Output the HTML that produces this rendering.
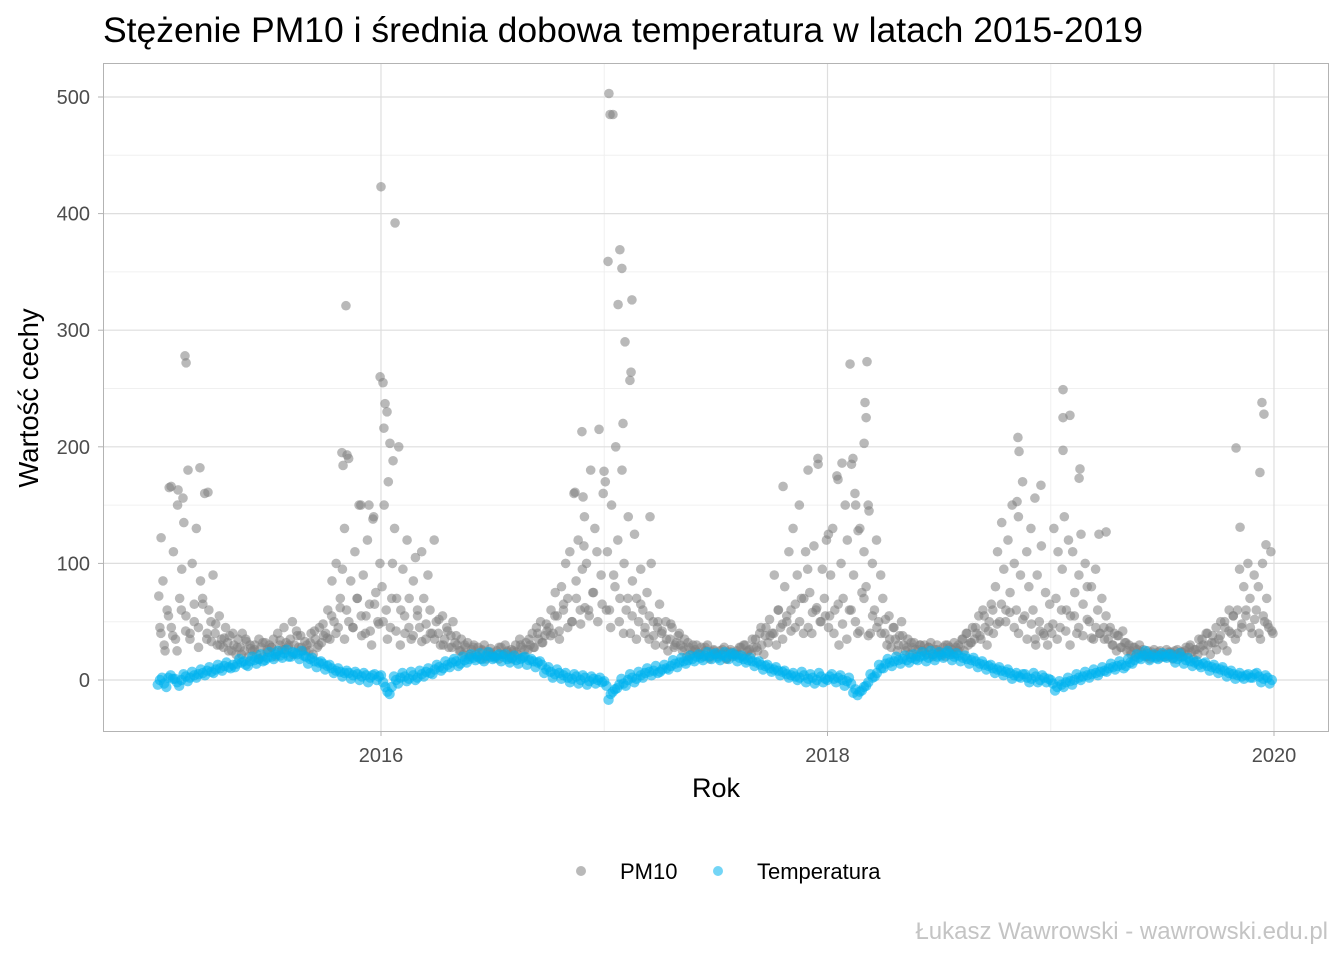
<!DOCTYPE html>
<html><head><meta charset="utf-8"><style>
html,body{margin:0;padding:0;background:#fff;}
svg{display:block;font-family:"Liberation Sans",sans-serif;}
</style></head><body>
<svg id="chart" width="1344" height="960" viewBox="0 0 1344 960" xmlns="http://www.w3.org/2000/svg">
<text x="103" y="42" font-size="35.5" fill="#000">Stężenie PM10 i średnia dobowa temperatura w latach 2015-2019</text>
<g id="grid"></g>
<g id="points"></g>
<rect x="103.5" y="63.5" width="1225" height="668" fill="none" stroke="#b3b3b3" stroke-width="1"/>
<g id="axes"></g>
<text x="716" y="797" font-size="27" text-anchor="middle" fill="#000">Rok</text>
<text transform="translate(38,398) rotate(-90)" font-size="27.5" text-anchor="middle" fill="#000">Wartość cechy</text>
<g>
<circle cx="581" cy="871" r="5" fill="#808080" fill-opacity="0.55"/>
<text x="620" y="879" font-size="22" fill="#000">PM10</text>
<circle cx="718" cy="871" r="5" fill="#00b2ee" fill-opacity="0.55"/>
<text x="757" y="879" font-size="22" fill="#000">Temperatura</text>
</g>
<text x="1328" y="939" font-size="24" text-anchor="end" fill="#c4c4c4">Łukasz Wawrowski - wawrowski.edu.pl</text>
</svg>
<script>
const years = [2015, 2016, 2017, 2018, 2019];
const yTicks = [0, 100, 200, 300, 400, 500];
const xTicks = [2016, 2018, 2020];
const xTickLabels = ["2016", "2018", "2020"];
const pm2015 = [72,40,85,25,60,165,45,110,35,150,70,95,135,55,180,40,100,65,130,45,85,70,160,35,60,50,90,40,30,55,35,28,45,32,38,25,30,22,35,28,40,25,33,20,27,25,30,22,35,28,20,32,26,30,28,35,24,40,30,26,45,32,28,35,50,30,42,28,38,25,33,30,25,40,22,35,28,45,32,38,40,60,35,85,50,100,45,70,95,130,60,190,85,45,110,70,150,55,90,40,120,65,30,140,75,50,100];
const pm2016 = [80,150,60,170,45,100,130,70,200,60,95,40,120,70,35,85,105,55,45,110,70,35,90,60,40,120,50,40,30,55,35,45,28,38,50,32,30,25,35,22,28,32,20,26,30,22,28,18,25,30,20,24,27,22,20,25,18,28,22,30,24,19,26,25,30,22,35,28,20,32,26,30,40,28,45,35,50,32,38,42,45,60,40,75,55,35,80,65,100,70,110,50,160,85,120,60,95,140,100,60,180,75,130,110,215,90,160];
const pm2017 = [170,110,60,150,90,200,120,70,180,100,60,140,40,85,125,70,50,95,60,40,75,35,100,50,30,45,65,40,30,50,25,35,45,28,32,38,30,25,35,20,28,22,30,26,24,22,28,20,25,30,18,24,26,22,20,25,22,28,18,24,26,20,22,25,22,28,20,30,24,26,22,28,35,25,40,30,22,45,32,38,40,90,30,60,45,35,80,50,110,60,130,45,90,150,70,40,110,95,75,40,115,60,185,50,95,70,120];
const pm2018 = [45,90,130,60,175,30,100,70,150,120,60,185,90,150,40,130,75,110,80,150,40,100,60,120,50,90,70,40,30,55,28,45,35,25,38,50,30,25,35,22,28,32,20,26,30,25,30,22,28,32,20,26,30,24,22,28,20,30,24,26,22,28,25,28,35,25,40,30,32,45,35,40,55,35,60,45,30,50,65,40,80,110,50,135,95,60,120,75,150,100,60,140,90,170,55,110,80,130,60,35,90,50,115,40,75,30,65];
const pm2019 = [40,130,70,110,45,95,140,60,120,55,110,75,40,90,125,65,100,80,50,80,35,95,60,40,70,45,55,35,45,30,40,25,38,28,42,32,25,30,22,28,20,26,30,24,22,20,25,18,22,26,20,24,19,22,22,26,20,24,18,25,22,20,24,20,25,22,28,24,18,26,22,28,35,25,40,30,22,38,32,26,35,50,30,45,25,60,40,55,35,60,95,45,80,55,100,70,40,90,60,80,35,100,50,70,45,110,40];
const pmB2015 = [45,30,55,38,25,60,42,35,50,28,65,40,33,48,30,36,25,40,28,22,35,30,26,18,32,24,28,20,34,26,30,22,38,28,25,32,42,30,48,36,55,40,62,35,50,45,70,38,55,42,65,48];
const pmB2016 = [50,35,70,42,30,55,45,38,60,33,48,40,35,52,30,42,28,38,25,30,22,28,20,26,18,24,20,28,22,25,18,24,30,26,35,28,40,32,48,38,55,42,60,45,50,70,48,62,55,75,50,65];
const pmB2017 = [60,45,80,50,40,70,55,35,65,45,55,38,50,42,35,48,30,40,28,32,25,30,22,28,20,25,22,26,18,24,22,28,30,25,35,28,45,38,52,40,60,48,55,42,65,50,70,45,58,62,50,55];
const pmB2018 = [55,40,65,48,35,60,50,42,70,38,55,45,40,52,35,45,30,38,28,32,26,30,24,28,22,26,24,30,28,32,30,35,40,32,45,38,55,42,60,48,65,50,58,45,40,52,35,48,30,42,38,45];
const pmB2019 = [48,35,60,42,30,55,45,38,52,36,45,40,35,42,30,38,28,32,25,28,22,26,20,24,22,25,20,24,22,26,24,28,30,26,35,30,40,32,45,38,50,42,55,40,48,60,45,52,40,55,48,42];
const pmSeries = [pm2015, pm2016, pm2017, pm2018, pm2019, pmB2015, pmB2016, pmB2017, pmB2018, pmB2019];
const outlierDates = [2015.122,2015.127,2015.189,2015.225,2015.015,2015.06,2015.091,2015.113,2015.843,2015.825,2015.848,2015.83,2016.0,2016.063,2015.996,2016.009,2016.018,2016.027,2016.013,2016.04,2016.054,2015.946,2015.91,2015.964,2016.869,2016.9,2016.905,2017.021,2017.026,2017.039,2017.017,2017.07,2017.079,2017.062,2017.124,2017.093,2017.12,2017.115,2017.084,2016.999,2017.205,2016.909,2017.801,2017.913,2017.957,2018.101,2018.177,2018.168,2018.173,2018.164,2018.114,2018.065,2018.047,2018.123,2018.186,2018.004,2018.137,2018.853,2018.858,2019.055,2019.055,2019.086,2019.055,2019.131,2019.127,2018.929,2018.956,2018.849,2019.248,2019.216,2019.83,2019.946,2019.955,2019.937,2019.848,2019.964];
const outlierValues = [278,272,182,161,122,166,163,156,321,195,193,184,423,392,260,255,237,230,216,203,188,150,150,138,161,213,157,503,485,485,359,369,353,322,326,290,264,257,220,179,140,115,166,180,190,271,273,238,225,203,190,186,172,160,145,125,128,208,196,249,225,227,197,181,173,156,167,153,127,125,199,238,228,178,131,116];
const t2015 = [0,-3,2,1,-2,0,3,2,4,5,6,8,7,9,10,12,11,13,14,15,13,16,17,18,16,19,20,22,21,23,20,24,22,25,20,18,16,15,14,12,10,8,7,6,6,4,5,3,4,2,5,3];
const t2016 = [-2,-10,-6,0,2,3,1,4,2,5,7,6,9,11,10,13,15,16,14,17,18,19,20,18,21,20,19,22,20,18,19,17,18,20,17,16,15,13,9,7,5,6,4,2,1,3,0,2,-1,1,0,-2];
const t2017 = [-5,-12,-8,-4,-3,0,2,1,4,6,7,8,6,9,10,12,14,15,16,17,18,20,19,21,20,22,19,21,20,22,21,19,18,17,16,15,13,12,10,9,8,7,5,4,3,2,4,1,2,0,3,1];
const t2018 = [3,1,2,0,-1,-3,-8,-10,-6,-2,2,6,10,14,15,16,17,18,17,19,18,20,21,19,22,20,21,23,22,20,21,19,18,17,16,14,13,12,10,9,8,7,6,4,3,5,2,1,3,0,2,1];
const t2019 = [-3,-6,-4,-2,-1,0,2,3,4,5,6,7,8,10,11,12,13,12,15,17,19,21,22,20,19,21,20,22,19,18,20,17,16,15,13,14,12,11,10,9,8,6,5,4,3,4,2,5,3,1,2,0];
const tB2015 = [-4,2,-6,4,1,-5,5,-1,7,2,9,4,11,6,13,8,15,10,11,18,16,12,20,14,22,17,24,18,25,19,26,20,23,18,21,14,19,11,16,9,13,6,10,3,8,1,7,0,6,-2,4,0];
const tB2016 = [4,-6,-12,3,-3,6,-1,7,0,8,3,10,5,13,8,16,11,18,12,20,15,22,17,23,16,24,18,21,16,22,15,21,14,19,13,18,11,16,6,11,2,9,1,6,-2,5,-3,4,-4,3,-3,2];
const tB2017 = [-1,-17,-10,-7,1,-5,5,-2,7,2,10,4,12,7,13,9,17,11,19,14,21,16,22,17,24,18,23,17,24,18,23,16,21,15,19,12,16,9,13,7,11,4,8,2,6,0,7,-2,5,-3,6,-2];
const tB2018 = [0,5,-2,4,-5,2,-11,-13,-9,-5,5,3,13,10,18,12,20,14,21,15,22,17,24,16,25,17,24,19,25,17,23,16,21,14,19,11,16,9,13,6,11,4,9,1,6,2,5,-2,6,-2,4,-2];
const tB2019 = [0,-9,-1,-6,2,-4,5,0,7,2,9,4,11,7,14,9,16,10,18,14,22,18,25,17,22,18,23,19,22,15,23,14,19,12,16,11,15,8,13,6,11,3,8,1,6,1,5,2,6,-2,4,-3];
const tSeries = [t2015, t2016, t2017, t2018, t2019, tB2015, tB2016, tB2017, tB2018, tB2019];

const NS = "http://www.w3.org/2000/svg";
const X0 = 381, YEARPX = 223.25, Y0 = 680, UNITPX = 1.166;
function xs(yr){ return X0 + (yr - 2016) * YEARPX; }
function ys(v){ return Y0 - v * UNITPX; }
function mk(tag, attrs, parent){
  const e = document.createElementNS(NS, tag);
  for (const k in attrs) e.setAttribute(k, attrs[k]);
  parent.appendChild(e); return e;
}
const grid = document.getElementById('grid');
const axes = document.getElementById('axes');
const pts = document.getElementById('points');
mk('rect',{x:103,y:63,width:1225,height:668,fill:'#fff'},grid);
for (let i = 0; i < yTicks.length; i++) {
  const v = yTicks[i] + 50;
  if (ys(v) > 63) {
    const l = mk('line',{x1:103,x2:1328,y1:ys(v),y2:ys(v),stroke:'#f0f0f0','stroke-width':1},grid);
    
    
  }
}
for (let i = 0; i < xTicks.length - 1; i++) {
  const v = (xTicks[i] + xTicks[i+1]) / 2;
  const l = mk('line',{x1:xs(v),x2:xs(v),y1:63,y2:731,stroke:'#f0f0f0','stroke-width':1},grid);
  
  
}
yTicks.forEach(v => {
  const l = mk('line',{x1:103,x2:1328,y1:ys(v),y2:ys(v),stroke:'#dedede','stroke-width':1.2},grid);
  
  
  const t = mk('text',{x:90,y:ys(v)+7,'font-size':20,'text-anchor':'end',fill:'#4d4d4d'},axes);
  t.textContent = String(v);
  
  
  mk('line',{x1:98,x2:103,y1:ys(v),y2:ys(v),stroke:'#b3b3b3'},axes);
});
xTicks.forEach((v, i) => {
  const l = mk('line',{x1:xs(v),x2:xs(v),y1:63,y2:731,stroke:'#dedede','stroke-width':1.2},grid);
  
  
  const t = mk('text',{x:xs(v),y:762,'font-size':20,'text-anchor':'middle',fill:'#4d4d4d'},axes);
  t.textContent = xTickLabels[i];
  
  
  mk('line',{x1:xs(v),x2:xs(v),y1:731,y2:736,stroke:'#b3b3b3'},axes);
});
pmSeries.forEach((arr, si) => {
  const yr = years[si % 5];
  arr.forEach((v, i) => {
    const c = mk('circle',{cx:xs(yr + (i + 0.5) / arr.length), cy:ys(v), r:4.8, fill:'#808080','fill-opacity':0.55},pts);
    
    
  });
});
outlierDates.forEach((d, i) => {
  const c = mk('circle',{cx:xs(d), cy:ys(outlierValues[i]), r:4.8, fill:'#808080','fill-opacity':0.55},pts);
  
  
});
tSeries.forEach((arr, si) => {
  const yr = years[si % 5];
  const off = si < 5 ? 0.5 : 0.0;
  arr.forEach((v, i) => {
    const c = mk('circle',{cx:xs(yr + (i + off) / arr.length), cy:ys(v), r:5.2, fill:'#00b2ee','fill-opacity':0.6},pts);
    
    
  });
});
</script>
</body></html>
